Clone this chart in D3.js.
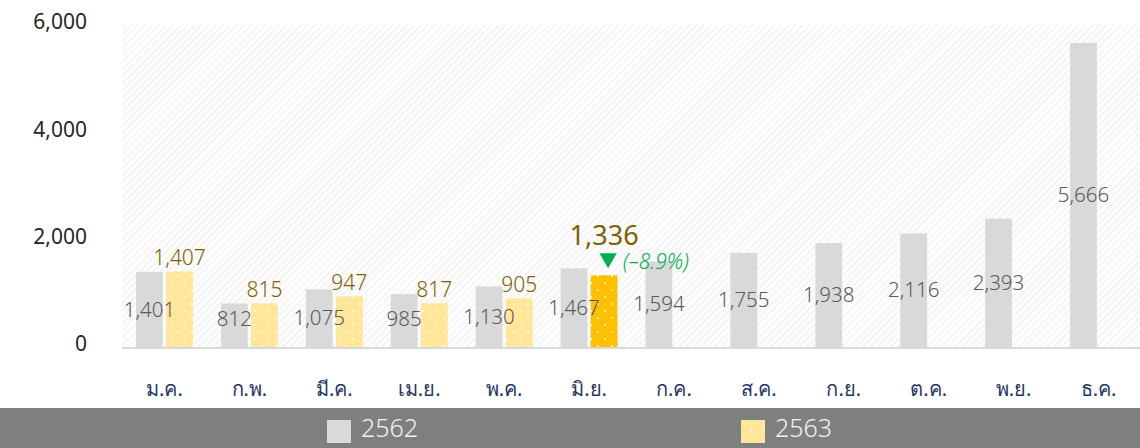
<!DOCTYPE html>
<html lang="th">
<head>
    <meta charset="utf-8" />
    <title>Monthly comparison 2562 / 2563</title>
    <script src="https://cdnjs.cloudflare.com/ajax/libs/d3/7.8.5/d3.min.js"></script>
    <style>
        body { margin: 0; background: #fff; }
        svg { display: block; font-family: "Noto Sans", "Open Sans", "DejaVu Sans", sans-serif; }
        .y-label { font-size: 21px; fill: #262626; }
        .x-label { font-size: 20px; fill: #1f3864; }
        .val-old { font-size: 20.5px; fill: #595959; font-weight: 300; }
        .val-new { font-size: 21px; fill: #7f6000; font-weight: 300; }
        .val-hi { font-size: 27px; fill: #7f6000; font-weight: 400; }
        .change { font-size: 21px; fill: #00b050; font-style: italic; font-weight: 300; }
        .legend-text { font-size: 25px; fill: #f2f2f2; font-weight: 300; }
    </style>
</head>
<body>
<div id="chart"></div>

<script>
    const months = ["ม.ค.", "ก.พ.", "มี.ค.", "เม.ย.", "พ.ค.", "มิ.ย.", "ก.ค.", "ส.ค.", "ก.ย.", "ต.ค.", "พ.ย.", "ธ.ค."];
    const series = ["2562", "2563"];
    const values2562 = [1401, 812, 1075, 985, 1130, 1467, 1594, 1755, 1938, 2116, 2393, 5666];
    const values2563 = [1407, 815, 947, 817, 905, 1336];
    const yTicks = [0, 2000, 4000, 6000];

    const width = 1140;
    const height = 448;
    const plot = { left: 122, right: 1141, top: 25, bottom: 347 };

    const svg = d3.select("#chart")
        .append("svg")
        .attr("width", width)
        .attr("height", height);

    const defs = svg.append("defs");

    // diagonal hatch for the plot background
    const hatch = defs.append("pattern")
        .attr("id", "hatch")
        .attr("patternUnits", "userSpaceOnUse")
        .attr("width", 5)
        .attr("height", 5)
        .attr("patternTransform", "rotate(45)");
    hatch.append("rect").attr("width", 5).attr("height", 5).attr("fill", "#fdfdfd");
    hatch.append("line")
        .attr("x1", 0).attr("y1", 0).attr("x2", 0).attr("y2", 5)
        .attr("stroke", "#eeeeee").attr("stroke-width", 2);

    // white dots for 2563 bars
    function dotPattern(id, color) {
        const p = defs.append("pattern")
            .attr("id", id)
            .attr("patternUnits", "userSpaceOnUse")
            .attr("width", 14)
            .attr("height", 14);
        p.append("rect").attr("width", 14).attr("height", 14).attr("fill", color);
        p.append("circle").attr("cx", 3).attr("cy", 3).attr("r", 0.9).attr("fill", "#fff");
        p.append("circle").attr("cx", 10).attr("cy", 10).attr("r", 0.9).attr("fill", "#fff");
    }
    dotPattern("dots", "#ffe699");
    dotPattern("dotsHi", "#ffc000");

    const x = d3.scaleBand()
        .domain(months)
        .range([plot.left, plot.right])
        .paddingInner(0.33)
        .paddingOuter(0.165);

    const xSub = d3.scaleBand()
        .domain(series)
        .range([0, x.bandwidth()])
        .paddingInner(0.11);

    const y = d3.scaleLinear()
        .domain([0, 6000])
        .range([plot.bottom, plot.top]);

    const fmt = d3.format(",");

    // background
    svg.append("rect")
        .attr("x", plot.left)
        .attr("y", plot.top)
        .attr("width", width - plot.left)
        .attr("height", plot.bottom - plot.top)
        .attr("fill", "url(#hatch)");

    // y axis labels
    svg.append("g")
        .selectAll("text")
        .data(yTicks)
        .join("text")
        .attr("class", "y-label")
        .attr("x", 87)
        .attr("y", d => y(d) - 3)
        .attr("dy", "0.35em")
        .attr("text-anchor", "end")
        .text(d => fmt(d));

    const data2562 = months.map((m, i) => ({ month: m, value: values2562[i] }));
    const data2563 = values2563.map((v, i) => ({ month: months[i], value: v, hi: i === values2563.length - 1 }));

    // 2562 bars
    svg.append("g")
        .selectAll("rect")
        .data(data2562)
        .join("rect")
        .attr("x", d => x(d.month) + xSub("2562"))
        .attr("y", d => y(d.value))
        .attr("width", xSub.bandwidth())
        .attr("height", d => y(0) - y(d.value))
        .attr("fill", "#d9d9d9");

    // 2563 bars
    svg.append("g")
        .selectAll("rect")
        .data(data2563)
        .join("rect")
        .attr("x", d => x(d.month) + xSub("2563"))
        .attr("y", d => y(d.value))
        .attr("width", xSub.bandwidth())
        .attr("height", d => y(0) - y(d.value))
        .attr("fill", d => d.hi ? "url(#dotsHi)" : "url(#dots)");

    // baseline
    svg.append("line")
        .attr("x1", plot.left)
        .attr("x2", width)
        .attr("y1", y(0) + 1)
        .attr("y2", y(0) + 1)
        .attr("stroke", "#d9d9d9")
        .attr("stroke-width", 2);

    // 2562 value labels (middle of bar, kept off the baseline)
    svg.append("g")
        .selectAll("text")
        .data(data2562)
        .join("text")
        .attr("class", "val-old")
        .attr("x", d => x(d.month) + xSub("2562") + xSub.bandwidth() / 2)
        .attr("y", d => Math.min(y(d.value / 2), y(0) - 28))
        .attr("dy", "0.35em")
        .attr("text-anchor", "middle")
        .text(d => fmt(d.value));

    // 2563 value labels
    svg.append("g")
        .selectAll("text")
        .data(data2563.filter(d => !d.hi))
        .join("text")
        .attr("class", "val-new")
        .attr("x", d => x(d.month) + xSub("2563") + xSub.bandwidth() / 2)
        .attr("y", d => y(d.value) - 6)
        .attr("text-anchor", "middle")
        .text(d => fmt(d.value));

    // highlighted latest month
    const last = data2563[data2563.length - 1];
    const prev = values2562[values2563.length - 1];
    const change = (last.value - prev) / prev;
    const hx = x(last.month) + xSub("2563") + xSub.bandwidth() / 2;
    const hy = y(last.value);

    svg.append("text")
        .attr("class", "val-hi")
        .attr("x", hx)
        .attr("y", hy - 30)
        .attr("text-anchor", "middle")
        .text(fmt(last.value));

    svg.append("path")
        .attr("d", d3.symbol().type(d3.symbolTriangle).size(130)())
        .attr("transform", `translate(${hx + 4},${hy - 17}) rotate(180)`)
        .attr("fill", "#00b050");

    svg.append("text")
        .attr("class", "change")
        .attr("x", hx + 19)
        .attr("y", hy - 14)
        .attr("dy", "0.35em")
        .text(`(–${Math.abs(change * 100).toFixed(1)}%)`);

    // month labels
    svg.append("g")
        .selectAll("text")
        .data(months)
        .join("text")
        .attr("class", "x-label")
        .attr("x", d => x(d) + x.bandwidth() / 2)
        .attr("y", 396)
        .attr("text-anchor", "middle")
        .text(d => d);

    // legend strip
    svg.append("rect")
        .attr("x", 0)
        .attr("y", 408)
        .attr("width", width)
        .attr("height", height - 408)
        .attr("fill", "#7f7f7f");

    const legendX = [327, 741];
    const legendFill = ["#d9d9d9", "url(#dots)"];
    const legend = svg.append("g")
        .selectAll("g")
        .data(series)
        .join("g")
        .attr("transform", (d, i) => `translate(${legendX[i]},420)`);
    legend.append("rect")
        .attr("width", 24)
        .attr("height", 23)
        .attr("fill", (d, i) => legendFill[i]);
    legend.append("text")
        .attr("class", "legend-text")
        .attr("x", 34)
        .attr("y", 8)
        .attr("dy", "0.35em")
        .text(d => d);
</script>
</body>
</html>
